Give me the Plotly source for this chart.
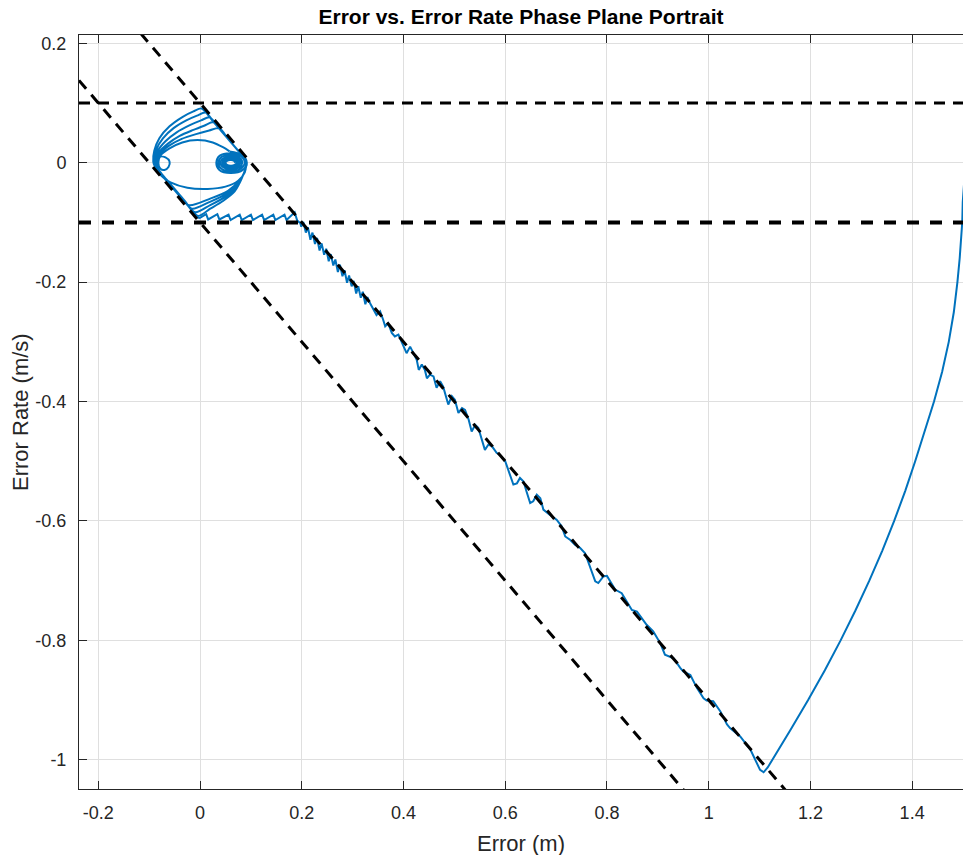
import plotly.graph_objects as go

# Axis limits and ticks
x_range = [-0.238, 1.5]
y_range = [-1.049, 0.214]
x_ticks = [-0.2, 0, 0.2, 0.4, 0.6, 0.8, 1.0, 1.2, 1.4]
x_tick_text = ["-0.2", "0", "0.2", "0.4", "0.6", "0.8", "1", "1.2", "1.4"]
y_ticks = [-1.0, -0.8, -0.6, -0.4, -0.2, 0, 0.2]
y_tick_text = ["-1", "-0.8", "-0.6", "-0.4", "-0.2", "0", "0.2"]

# Boundary layer half-width and rate limit
boundary = 0.1
rate_limit = 0.1

# Reaching phase: from the initial error down to the sliding surface
approach_e = [1.505, 1.502, 1.4995, 1.4985, 1.497, 1.4935, 1.489, 1.482, 1.472, 1.459,
              1.443, 1.425, 1.406, 1.3863, 1.3647, 1.3412, 1.3158, 1.2885, 1.2594, 1.2284,
              1.1955, 1.1607, 1.1241, 1.116, 1.108]
approach_de = [0.000, -0.040, -0.066, -0.100, -0.124, -0.160, -0.200, -0.250, -0.300, -0.350,
               -0.400, -0.450, -0.500, -0.550, -0.600, -0.650, -0.700, -0.750, -0.800, -0.850,
               -0.900, -0.950, -1.000, -1.013, -1.021]

# Sliding phase along the upper boundary-layer edge (with chattering)
slide_e = [1.101, 1.082, 1.062, 1.042, 1.036, 1.023, 1.009, 0.996, 0.990, 0.977,
           0.964, 0.950, 0.944, 0.931, 0.914, 0.905, 0.891, 0.878, 0.869, 0.859,
           0.849, 0.839, 0.829, 0.816, 0.806, 0.800, 0.793, 0.783, 0.777, 0.767,
           0.757, 0.747, 0.737, 0.728, 0.718, 0.711, 0.701, 0.688, 0.675, 0.669,
           0.662, 0.655, 0.649, 0.642, 0.636, 0.629, 0.623, 0.616, 0.610, 0.600,
           0.590, 0.583, 0.574, 0.567, 0.560, 0.554, 0.547, 0.541, 0.534, 0.528,
           0.521, 0.515, 0.508, 0.501, 0.495, 0.488, 0.485, 0.478, 0.472, 0.465,
           0.459, 0.452, 0.446, 0.442, 0.436, 0.430, 0.426, 0.420, 0.413, 0.406,
           0.397, 0.390, 0.383, 0.377, 0.370, 0.364, 0.360, 0.354, 0.347, 0.341,
           0.334, 0.329, 0.325, 0.320, 0.316, 0.311, 0.307, 0.302, 0.298, 0.293,
           0.289, 0.284, 0.280, 0.275, 0.271, 0.266, 0.262, 0.257, 0.253, 0.248,
           0.244, 0.239, 0.235, 0.230, 0.226, 0.221, 0.217, 0.212, 0.208, 0.203,
           0.199, 0.197]
slide_de = [-1.017, -0.983, -0.961, -0.947, -0.941, -0.919, -0.902, -0.901, -0.897, -0.880,
            -0.858, -0.852, -0.846, -0.830, -0.824, -0.805, -0.785, -0.774, -0.763, -0.752,
            -0.749, -0.735, -0.721, -0.715, -0.701, -0.692, -0.693, -0.704, -0.701, -0.676,
            -0.654, -0.645, -0.640, -0.632, -0.626, -0.609, -0.598, -0.590, -0.581, -0.562,
            -0.556, -0.567, -0.570, -0.551, -0.534, -0.528, -0.537, -0.539, -0.523, -0.500,
            -0.490, -0.486, -0.475, -0.472, -0.481, -0.464, -0.444, -0.439, -0.450, -0.430,
            -0.414, -0.411, -0.419, -0.397, -0.391, -0.405, -0.397, -0.375, -0.366, -0.377,
            -0.358, -0.355, -0.361, -0.347, -0.338, -0.347, -0.330, -0.319, -0.308, -0.319,
            -0.302, -0.288, -0.291, -0.285, -0.269, -0.274, -0.263, -0.249, -0.255, -0.246,
            -0.235, -0.225, -0.237, -0.216, -0.226, -0.207, -0.219, -0.198, -0.207, -0.189,
            -0.201, -0.180, -0.190, -0.171, -0.183, -0.162, -0.172, -0.153, -0.165, -0.144,
            -0.154, -0.135, -0.147, -0.126, -0.136, -0.117, -0.129, -0.108, -0.117, -0.099,
            -0.107, -0.101]

# Rate-limited segment along the lower rate bound
saw_e = [0.197, 0.191, 0.186, 0.178, 0.170, 0.166, 0.158, 0.148, 0.144, 0.136,
         0.126, 0.122, 0.114, 0.104, 0.100, 0.092, 0.082, 0.078, 0.070, 0.060,
         0.056, 0.048, 0.038, 0.034, 0.026, 0.016, 0.012, 0.004, -0.002]
saw_de = [-0.101, -0.097, -0.083, -0.090, -0.096, -0.087, -0.091, -0.096, -0.087, -0.091,
          -0.096, -0.087, -0.091, -0.096, -0.087, -0.091, -0.096, -0.087, -0.091, -0.096,
          -0.087, -0.091, -0.095, -0.086, -0.090, -0.095, -0.086, -0.090, -0.093]

# Limit cycling inside the boundary layer
orbit_e = [-0.002, -0.006, -0.030, -0.055, -0.078, -0.089, -0.092,
           -0.090, -0.080, -0.060, -0.034, -0.013, 0.003,
           0.025, 0.050, 0.075, 0.088, 0.091,
           0.084, 0.068, 0.045, 0.020, -0.004,
           -0.030, -0.055, -0.078, -0.088, -0.090,
           -0.086, -0.073, -0.052, -0.027, -0.006, 0.011,
           0.030, 0.055, 0.076, 0.088, 0.090,
           0.085, 0.072, 0.048, 0.020, -0.010,
           -0.030, -0.055, -0.076, -0.086, -0.088,
           -0.083, -0.068, -0.046, -0.020, 0.002, 0.019,
           0.040, 0.062, 0.080, 0.089, 0.090,
           0.086, 0.075, 0.050, 0.018, -0.016,
           -0.035, -0.058, -0.076, -0.085, -0.087,
           -0.080, -0.063, -0.040, -0.013, 0.008, 0.027,
           0.045, 0.065, 0.081, 0.089, 0.090,
           0.087, 0.079, 0.055, 0.020, -0.022,
           -0.040, -0.060, -0.076, -0.084, -0.086,
           -0.078, -0.060, -0.036, -0.008, 0.018, 0.038,
           0.055, 0.072, 0.085, 0.090,
           0.088, 0.075, 0.050, 0.015, -0.025, -0.058, -0.076, -0.083,
           -0.084, -0.079, -0.068, -0.060, -0.062, -0.070, -0.078, -0.082,
           -0.078, -0.060, -0.035, -0.005, 0.025, 0.045, 0.058]
orbit_de = [-0.093, -0.089, -0.066, -0.041, -0.018, -0.006, 0.002,
            0.020, 0.041, 0.061, 0.077, 0.086, 0.091,
            0.070, 0.045, 0.020, 0.006, -0.004,
            -0.022, -0.048, -0.064, -0.077, -0.089,
            -0.065, -0.040, -0.017, -0.005, 0.003,
            0.022, 0.041, 0.058, 0.071, 0.079, 0.084,
            0.065, 0.040, 0.019, 0.005, -0.005,
            -0.020, -0.042, -0.058, -0.071, -0.083,
            -0.064, -0.039, -0.018, -0.006, 0.004,
            0.020, 0.036, 0.051, 0.063, 0.071, 0.076,
            0.055, 0.033, 0.015, 0.004, -0.006,
            -0.018, -0.035, -0.053, -0.066, -0.077,
            -0.059, -0.036, -0.018, -0.007, 0.004,
            0.018, 0.032, 0.045, 0.055, 0.062, 0.068,
            0.050, 0.030, 0.014, 0.003, -0.007,
            -0.016, -0.028, -0.047, -0.060, -0.071,
            -0.054, -0.034, -0.018, -0.008, 0.003,
            0.016, 0.029, 0.040, 0.048, 0.054, 0.058,
            0.040, 0.023, 0.009, -0.004,
            -0.016, -0.030, -0.040, -0.044, -0.042, -0.033, -0.022, -0.012,
            0.000, 0.010, 0.009, 0.002, -0.007, -0.012, -0.010, 0.000,
            0.012, 0.024, 0.034, 0.038, 0.034, 0.026, 0.019]

# Final convergence spiral
spiral_e = [0.058, 0.083, 0.092, 0.084, 0.060, 0.038, 0.032, 0.039, 0.061,
            0.081, 0.088, 0.080, 0.061, 0.042, 0.036, 0.043, 0.061,
            0.077, 0.083, 0.077, 0.061, 0.046, 0.040, 0.046, 0.061,
            0.074, 0.079, 0.074, 0.061, 0.049, 0.044, 0.049, 0.061,
            0.071, 0.075, 0.071, 0.061, 0.051, 0.047, 0.051, 0.061,
            0.069, 0.072, 0.068, 0.061, 0.053, 0.050, 0.053, 0.061,
            0.067, 0.0695]
spiral_de = [0.019, 0.013, 0.000, -0.012, -0.017, -0.012, 0.000, 0.012, 0.016,
             0.011, 0.000, -0.010, -0.014, -0.010, 0.000, 0.010, 0.013,
             0.009, 0.000, -0.008, -0.011, -0.008, 0.000, 0.0075, 0.010,
             0.007, 0.000, -0.006, -0.0085, -0.006, 0.000, 0.0055, 0.0075,
             0.0052, 0.000, -0.0046, -0.0065, -0.0046, 0.000, 0.0042, 0.0058,
             0.004, 0.000, -0.0036, -0.005, -0.0036, 0.000, 0.0033, 0.0045,
             0.003, 0.000]

traj_color = "#0072BD"
axis_color = "#262626"
grid_color = "#dfdfdf"
font_family = "Liberation Sans, Arial, sans-serif"

fig = go.Figure()

fig.add_trace(go.Scatter(x=approach_e + slide_e + saw_e, y=approach_de + slide_de + saw_de,
                         mode="lines", line=dict(color=traj_color, width=2),
                         showlegend=False, hoverinfo="skip"))
fig.add_trace(go.Scatter(x=orbit_e, y=orbit_de, mode="lines",
                         line=dict(color=traj_color, width=2, shape="spline", smoothing=0.8),
                         showlegend=False, hoverinfo="skip"))
fig.add_trace(go.Scatter(x=spiral_e, y=spiral_de, mode="lines",
                         line=dict(color=traj_color, width=2, shape="spline", smoothing=1),
                         showlegend=False, hoverinfo="skip"))

# Rate limits (horizontal) and boundary-layer edges s = e + de = +/- boundary
fig.add_trace(go.Scatter(x=x_range, y=[rate_limit, rate_limit], mode="lines",
                         line=dict(color="black", width=3, dash="11px,8px"),
                         showlegend=False, hoverinfo="skip"))
fig.add_trace(go.Scatter(x=x_range, y=[-rate_limit, -rate_limit], mode="lines",
                         line=dict(color="black", width=4, dash="12px,11px"),
                         showlegend=False, hoverinfo="skip"))
for s in (boundary, -boundary):
    fig.add_trace(go.Scatter(x=x_range, y=[s - x_range[0], s - x_range[1]], mode="lines",
                             line=dict(color="black", width=3, dash="11px,8px"),
                             showlegend=False, hoverinfo="skip"))

tick_font = dict(family=font_family, size=18, color=axis_color)
label_font = dict(family=font_family, size=22, color=axis_color)

fig.update_layout(
    width=964, height=855,
    margin=dict(l=79, r=1, t=35, b=66),
    paper_bgcolor="white", plot_bgcolor="white",
    title=dict(text="<b>Error vs. Error Rate Phase Plane Portrait</b>",
               font=dict(family=font_family, size=21, color="black"),
               x=0.5, xref="paper", xanchor="center",
               y=1 - 17 / 855, yref="container", yanchor="middle"),
    xaxis=dict(range=x_range, tickvals=x_ticks, ticktext=x_tick_text,
               showgrid=True, gridcolor=grid_color, gridwidth=1, zeroline=False,
               showline=True, linecolor=axis_color, linewidth=1, mirror="ticks",
               ticks="inside", ticklen=8, tickcolor=axis_color, tickwidth=1,
               ticklabelstandoff=7, tickfont=tick_font),
    yaxis=dict(range=y_range, tickvals=y_ticks, ticktext=y_tick_text,
               showgrid=True, gridcolor=grid_color, gridwidth=1, zeroline=False,
               showline=True, linecolor=axis_color, linewidth=1,
               ticks="inside", ticklen=8, tickcolor=axis_color, tickwidth=1,
               ticklabelstandoff=8, tickfont=tick_font),
    annotations=[
        dict(text="Error (m)", xref="paper", yref="paper", x=0.5, y=-54 / 754,
             xanchor="center", yanchor="middle", showarrow=False, font=label_font),
        dict(text="Error Rate (m/s)", xref="paper", yref="paper", x=-59 / 884, y=377 / 754,
             xanchor="center", yanchor="middle", textangle=-90, showarrow=False,
             font=label_font),
    ],
)

fig.write_html("out.html")
